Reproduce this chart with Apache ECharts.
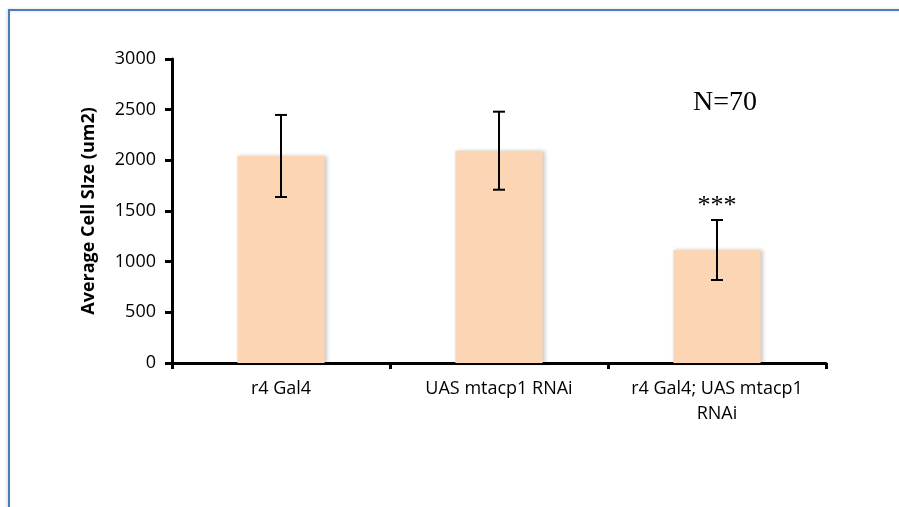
<!DOCTYPE html>
<html>
<head>
<meta charset="utf-8">
<title>Average Cell Size</title>
<script src="https://cdn.jsdelivr.net/npm/echarts@6/dist/echarts.min.js"></script>
<style>
    html, body { margin: 0; padding: 0; background: #fff; }
    #chart1 { width: 899px; height: 507px; }
</style>
</head>
<body>
<div id="chart1"></div>
<script>
// data
var categories = ['r4 Gal4', 'UAS mtacp1 RNAi', 'r4 Gal4; UAS mtacp1\nRNAi'];
var meanSize = [2043, 2095, 1115];
var errSize = [405, 385, 296];
var sigMarks = ['', '', '***'];
var yTicks = [0, 500, 1000, 1500, 2000, 2500, 3000];

drawChart1();

// chart1
function drawChart1() {
    var dom1 = document.getElementById("chart1");
    var myChart1 = echarts.init(dom1);
    var option = null;

    var errData = [];
    for (var i = 0; i < meanSize.length; i++) {
        errData.push([i, meanSize[i] - errSize[i], meanSize[i] + errSize[i]]);
    }

    option = {
        animation: false,
        backgroundColor: '#fff',
        textStyle: {
            fontFamily: 'Open Sans'
        },
        graphic: [{
            type: 'rect',
            shape: { x: 9, y: 10, width: 1000, height: 1000 },
            style: {
                fill: 'none',
                stroke: '#4a7ebb',
                lineWidth: 2,
                shadowBlur: 3,
                shadowColor: 'rgba(0,0,0,0.18)',
                shadowOffsetX: -1
            }
        }, {
            type: 'text',
            left: 693,
            top: 89,
            style: {
                text: 'N=70',
                font: '28px "Liberation Serif"',
                fill: '#000'
            }
        }],
        grid: {
            left: 172,
            right: 73,
            top: 59,
            bottom: 144
        },
        xAxis: {
            type: 'category',
            data: categories,
            axisLine: {
                lineStyle: { color: '#000', width: 3 }
            },
            axisTick: {
                show: true,
                length: 6,
                lineStyle: { color: '#000', width: 3 }
            },
            axisLabel: {
                color: '#000',
                fontSize: 18,
                margin: 13,
                lineHeight: 25,
                interval: 0
            }
        },
        yAxis: {
            type: 'value',
            min: yTicks[0],
            max: yTicks[yTicks.length - 1],
            interval: 500,
            name: 'Average Cell SIze (um2)',
            nameLocation: 'middle',
            nameGap: 74,
            nameTextStyle: {
                color: '#000',
                fontSize: 18,
                fontWeight: 'bold'
            },
            axisLine: {
                show: true,
                lineStyle: { color: '#000', width: 3 }
            },
            axisTick: {
                show: true,
                length: 7,
                lineStyle: { color: '#000', width: 3 }
            },
            axisLabel: {
                color: '#000',
                fontSize: 18,
                margin: 16,
                formatter: function (v) {
                    return String(v);
                }
            },
            splitLine: { show: false }
        },
        series: [{
            name: 'mean',
            type: 'bar',
            barWidth: '40%',
            itemStyle: {
                color: '#fcd5b4',
                shadowColor: 'rgba(0,0,0,0.22)',
                shadowBlur: 4,
                shadowOffsetX: 2
            },
            data: meanSize
        }, {
            name: 'error',
            type: 'custom',
            z: 10,
            renderItem: function (params, api) {
                var idx = api.value(0);
                var top = api.coord([idx, api.value(2)]);
                var bot = api.coord([idx, api.value(1)]);
                var cap = 6;
                var style = { stroke: '#000', lineWidth: 2 };
                var children = [
                    { type: 'line', shape: { x1: top[0], y1: top[1], x2: bot[0], y2: bot[1] }, style: style },
                    { type: 'line', shape: { x1: top[0] - cap, y1: top[1], x2: top[0] + cap, y2: top[1] }, style: style },
                    { type: 'line', shape: { x1: bot[0] - cap, y1: bot[1], x2: bot[0] + cap, y2: bot[1] }, style: style }
                ];
                var mark = sigMarks[params.dataIndex];
                if (mark) {
                    children.push({
                        type: 'text',
                        x: top[0],
                        y: top[1] - 14,
                        style: {
                            text: mark,
                            font: '26px "Liberation Serif"',
                            fill: '#000',
                            align: 'center',
                            verticalAlign: 'middle'
                        }
                    });
                }
                return { type: 'group', children: children };
            },
            encode: { x: 0, y: [1, 2] },
            data: errData
        }]
    };
    if (option && typeof option === "object") {
        myChart1.setOption(option, true);
        window.onresize = myChart1.resize;
    }
}
</script>
</body>
</html>
